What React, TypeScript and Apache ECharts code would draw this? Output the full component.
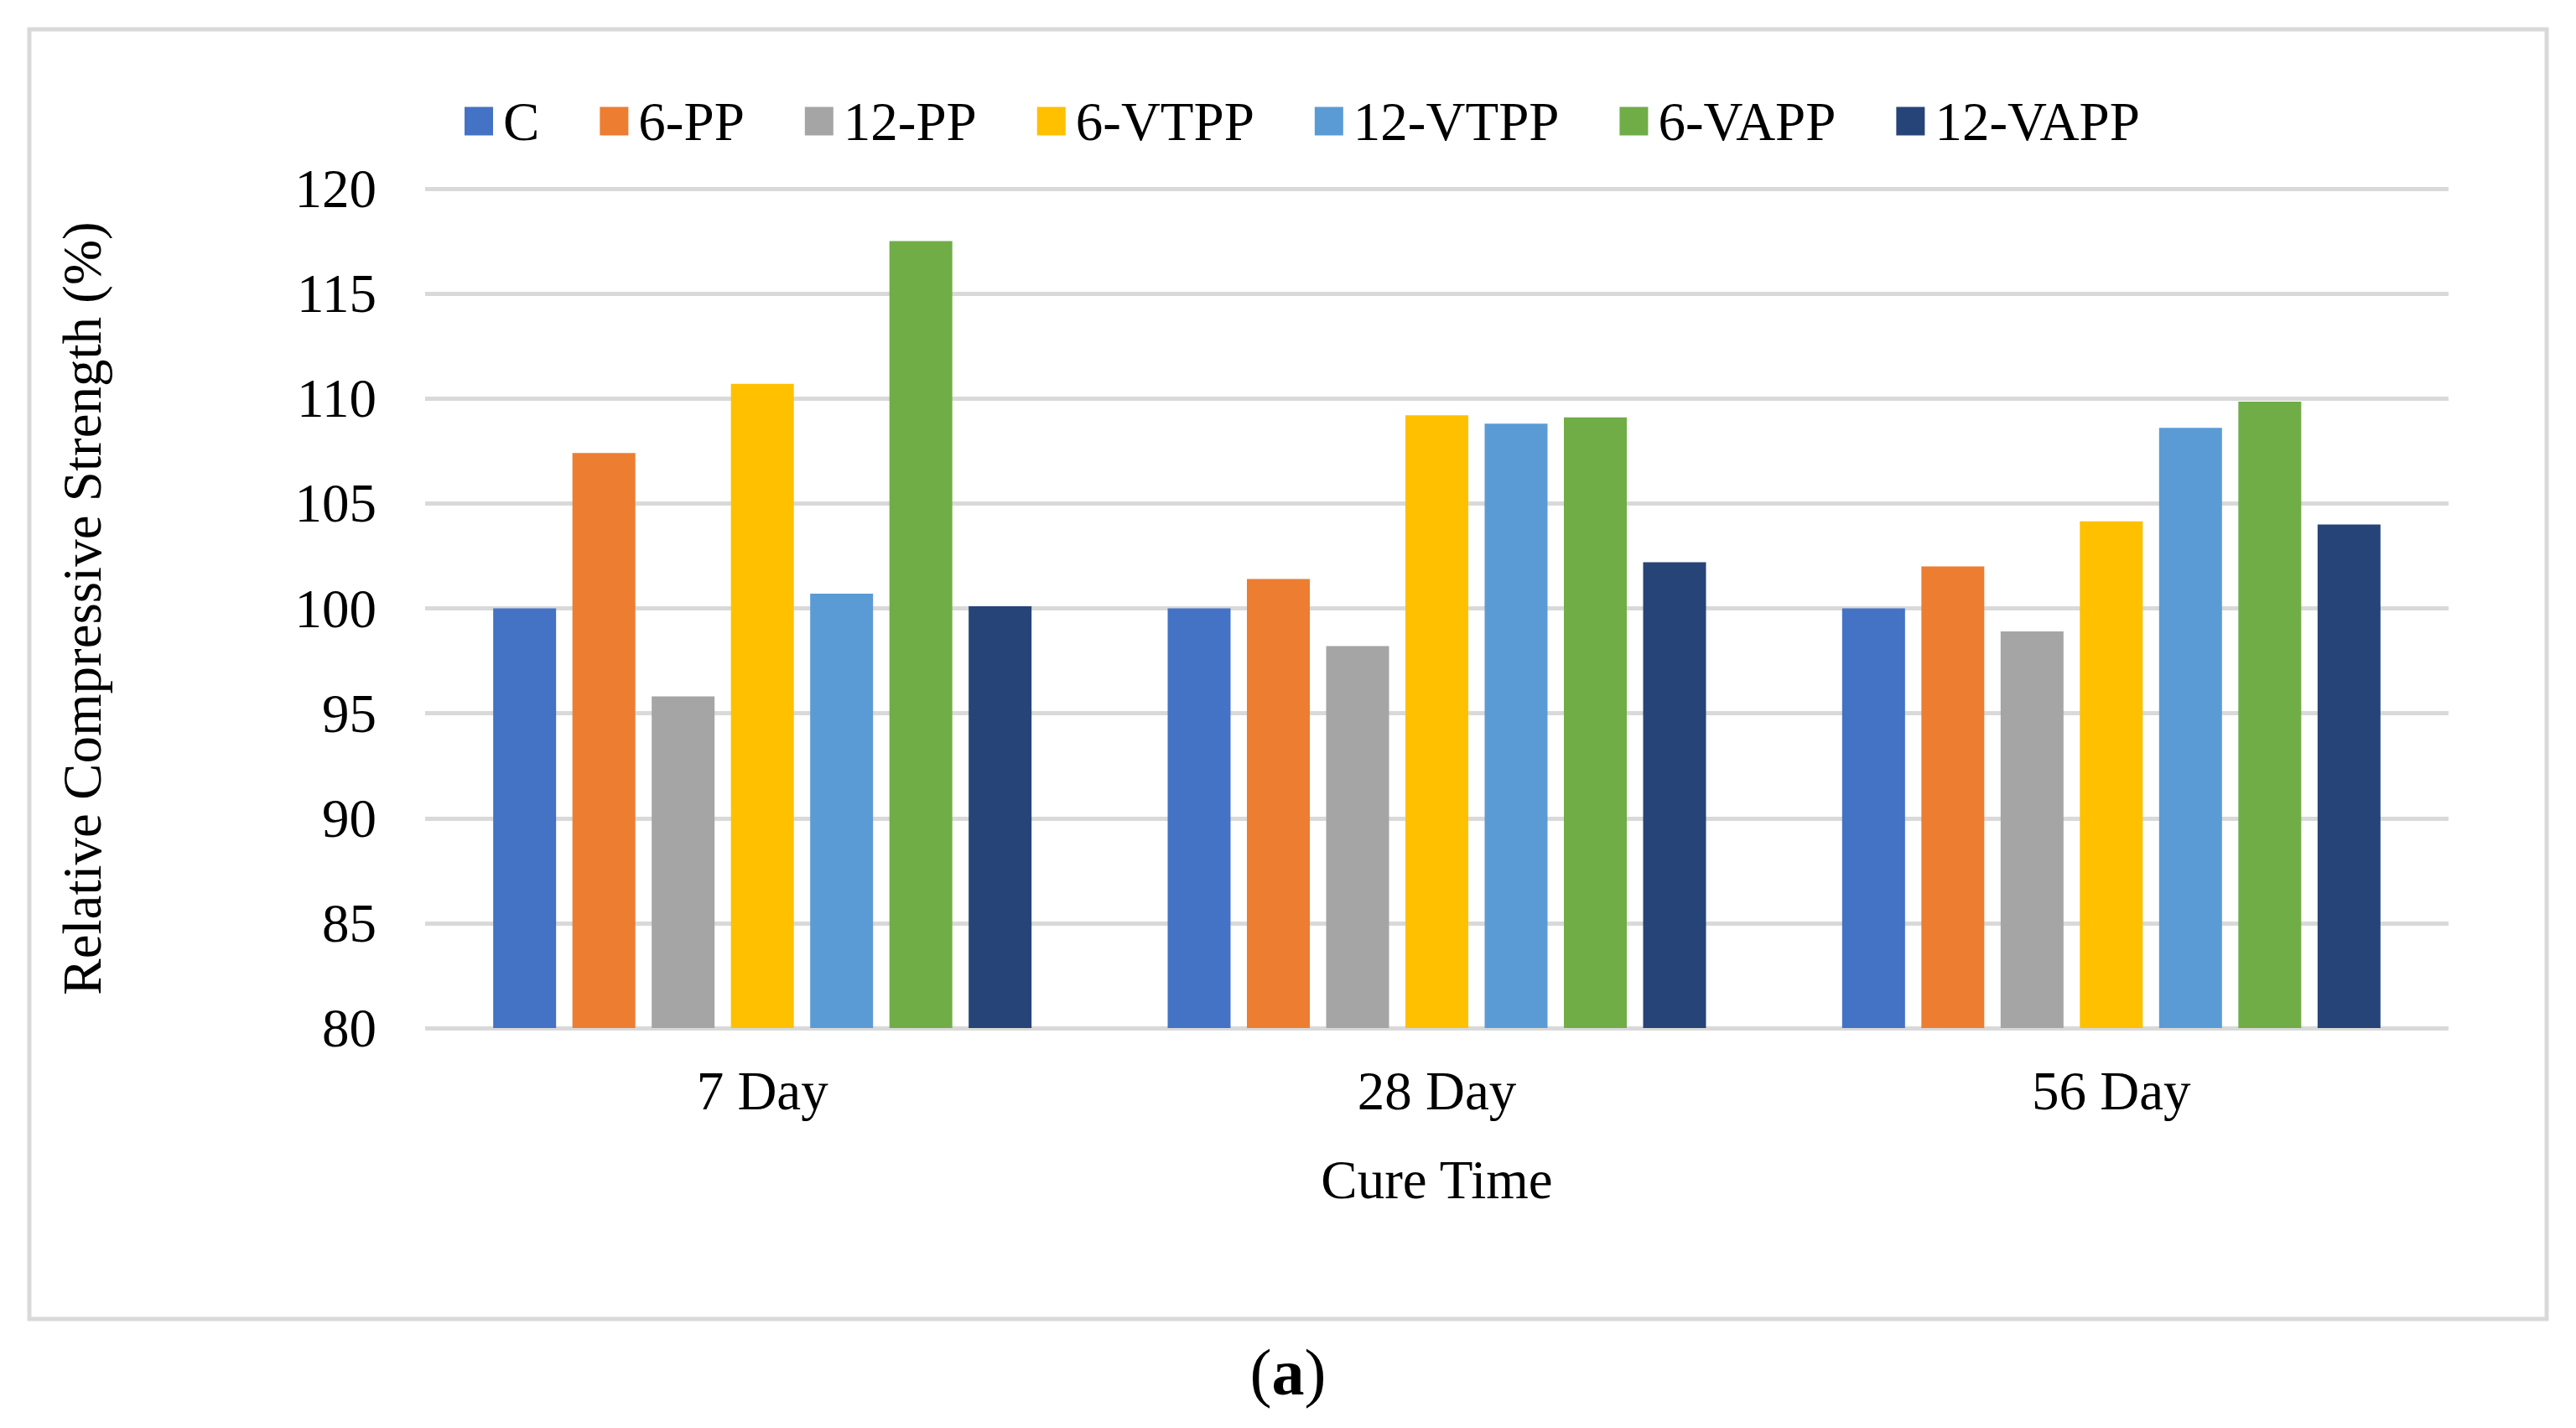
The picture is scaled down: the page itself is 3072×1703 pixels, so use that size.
import React, { useEffect, useRef } from "react";
import * as echarts from "echarts";

const categories = ["7 Day", "28 Day", "56 Day"];
const seriesNames = ["C", "6-PP", "12-PP", "6-VTPP", "12-VTPP", "6-VAPP", "12-VAPP"];
const colors = ["#4472C4", "#ED7D31", "#A5A5A5", "#FFC000", "#5B9BD5", "#70AD47", "#264478"];
const valC = [100, 100, 100];
const val6PP = [107.4, 101.4, 102.0];
const val12PP = [95.8, 98.2, 98.9];
const val6VTPP = [110.7, 109.2, 104.15];
const val12VTPP = [100.7, 108.8, 108.6];
const val6VAPP = [117.5, 109.1, 109.85];
const val12VAPP = [100.1, 102.2, 104.0];
const seriesValues = [valC, val6PP, val12PP, val6VTPP, val12VTPP, val6VAPP, val12VAPP];

const FONT = "'Liberation Serif', 'Times New Roman', serif";

export default function App() {
  const ref = useRef<HTMLDivElement>(null);
  useEffect(() => {
    if (!ref.current) return;
    const chart = echarts.init(ref.current, undefined, { renderer: "svg" });
    chart.setOption({
      animation: false,
      backgroundColor: "#ffffff",
      textStyle: { fontFamily: FONT },
      grid: { left: 507, right: 152, top: 225, bottom: 477 },
      legend: {
        data: seriesNames,
        left: 549,
        top: 107,
        itemWidth: 34,
        itemHeight: 34,
        itemGap: 72,
        icon: "rect",
        textStyle: { fontFamily: FONT, fontSize: 65, color: "#000", padding: [0, 0, 0, 7] },
      },
      xAxis: {
        type: "category",
        data: categories,
        name: "Cure Time",
        nameLocation: "middle",
        nameGap: 148,
        nameTextStyle: { fontFamily: FONT, fontSize: 65, color: "#000" },
        axisLine: { show: false },
        axisTick: { show: false },
        axisLabel: { fontFamily: FONT, fontSize: 65, color: "#000", margin: 42 },
      },
      yAxis: {
        type: "value",
        min: 80,
        max: 120,
        interval: 5,
        name: "Relative Compressive Strength (%)",
        nameLocation: "middle",
        nameGap: 377,
        nameTextStyle: { fontFamily: FONT, fontSize: 65, color: "#000" },
        axisLine: { show: false },
        axisTick: { show: false },
        axisLabel: { fontFamily: FONT, fontSize: 65, color: "#000", margin: 58 },
        splitLine: { lineStyle: { color: "#D9D9D9", width: 5 } },
      },
      series: seriesNames.map((n, i) => ({
        name: n,
        type: "bar",
        data: seriesValues[i],
        barWidth: 75,
        barGap: "26%",
        itemStyle: { color: colors[i] },
      })),
      graphic: [
        {
          type: "rect",
          shape: { x: 35, y: 35, width: 3002, height: 1538 },
          style: { fill: "none", stroke: "#D9D9D9", lineWidth: 5 },
          z: -1,
        },
        {
          type: "text",
          x: 1536,
          y: 1636,
          style: {
            text: "({b|a})",
            fontFamily: FONT,
            fontSize: 78,
            fill: "#000",
            align: "center",
            verticalAlign: "middle",
            rich: { b: { fontFamily: FONT, fontSize: 78, fontWeight: "bold", fill: "#000" } },
          },
        },
      ],
    });
    return () => chart.dispose();
  }, []);
  return (
    <div
      ref={ref}
      style={{ position: "fixed", left: 0, top: 0, width: 3072, height: 1703 }}
    />
  );
}
